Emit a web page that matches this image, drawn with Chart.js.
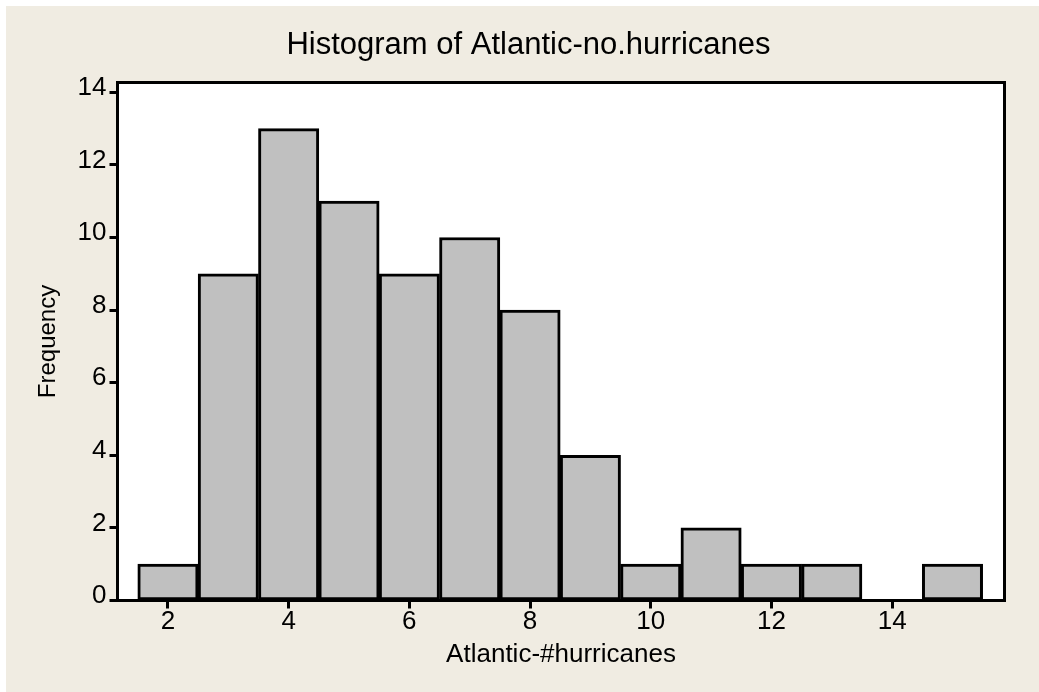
<!DOCTYPE html>
<html>
<head>
<meta charset="utf-8">
<script src="https://cdn.jsdelivr.net/npm/chart.js@4/dist/chart.umd.min.js"></script>
<style>
  html { margin: 0; padding: 0; background: #f0ece2; }
  body { margin: 0; padding: 0; background: #f0ece2; border-top: 6px solid #ffffff; border-left: 6px solid #ffffff; width: 1033px; height: 686px; overflow: hidden; }
  #wrap { position: relative; width: 1033px; height: 686px; background: #f0ece2; }
  canvas { display: block; }
</style>
</head>
<body>
<div id="wrap"><canvas id="c"></canvas></div>
<script>
// ---- data ----
const bins = [2, 3, 4, 5, 6, 7, 8, 9, 10, 11, 12, 13, 14, 15];
const frequencies = [1, 9, 13, 11, 9, 10, 8, 4, 1, 2, 1, 1, 0, 1];
const xTickValues = [2, 4, 6, 8, 10, 12, 14];
const yTickValues = [0, 2, 4, 6, 8, 10, 12, 14];
const titleText = 'Histogram of Atlantic-no.hurricanes';
const xTitle = 'Atlantic-#hurricanes';
const yTitle = 'Frequency';

Chart.defaults.color = '#000000';
Chart.defaults.font.family = '"Liberation Sans", Arial, sans-serif';

const plotFrame = {
  id: 'plotFrame',
  beforeDatasetsDraw(chart) {
    const a = chart.chartArea, ctx = chart.ctx;
    ctx.save();
    ctx.fillStyle = '#ffffff';
    ctx.fillRect(a.left, a.top, a.right - a.left, a.bottom - a.top);
    ctx.restore();
  },
  afterDatasetsDraw(chart) {
    const a = chart.chartArea, ctx = chart.ctx;
    ctx.save();
    ctx.strokeStyle = '#000000';
    ctx.lineWidth = 3;
    ctx.strokeRect(a.left, a.top, a.right - a.left, a.bottom - a.top);
    ctx.restore();
  }
};

new Chart(document.getElementById('c'), {
  type: 'bar',
  data: {
    datasets: [{
      data: bins.map((b, i) => ({ x: b, y: frequencies[i] })),
      backgroundColor: '#c0c0c0',
      borderColor: '#000000',
      borderWidth: 3,
      borderSkipped: false,
      barPercentage: 1,
      categoryPercentage: 1
    }]
  },
  plugins: [plotFrame],
  options: {
    responsive: true,
    maintainAspectRatio: false,
    animation: false,
    layout: { padding: { left: 12, right: 0, top: 0, bottom: 0 } },
    plugins: {
      legend: { display: false },
      tooltip: { enabled: false },
      title: {
        display: true,
        text: titleText,
        color: '#000000',
        font: { size: 31, weight: 'normal' },
        padding: { top: 20.7, bottom: 18.6 }
      }
    },
    scales: {
      x: {
        type: 'linear',
        position: 'bottom',
        min: 1.164,
        max: 15.862,
        offset: false,
        afterBuildTicks(s) { s.ticks = xTickValues.map(v => ({ value: v })); },
        afterFit(s) { s.height = 91.5; },
        grid: { display: true, drawOnChartArea: false, offset: false, tickLength: 8, tickWidth: 3, tickColor: '#000000' },
        border: { display: true, width: 3, color: '#000000' },
        ticks: { font: { size: 26 }, padding: -2, maxRotation: 0, autoSkip: false, color: '#000000' },
        title: { display: true, text: xTitle, font: { size: 26 }, color: '#000000', padding: { top: 0, bottom: 22 } }
      },
      y: {
        type: 'linear',
        position: 'left',
        min: 0,
        max: 14.27,
        afterBuildTicks(s) { s.ticks = yTickValues.map(v => ({ value: v })); },
        afterFit(s) { s.width = 99.5; },
        grid: { display: true, drawOnChartArea: false, tickLength: 8, tickWidth: 3, tickColor: '#000000' },
        border: { display: true, width: 3, color: '#000000' },
        ticks: { font: { size: 26 }, padding: 3, labelOffset: -4.5, autoSkip: false, color: '#000000' },
        title: { display: true, text: yTitle, font: { size: 24 }, color: '#000000', padding: { top: 16, bottom: 0 } }
      },
      yR: {
        type: 'linear',
        position: 'right',
        display: true,
        grid: { display: false },
        border: { display: false },
        ticks: { display: false },
        afterFit(s) { s.width = 34.5; }
      }
    }
  }
});
</script>
</body>
</html>
